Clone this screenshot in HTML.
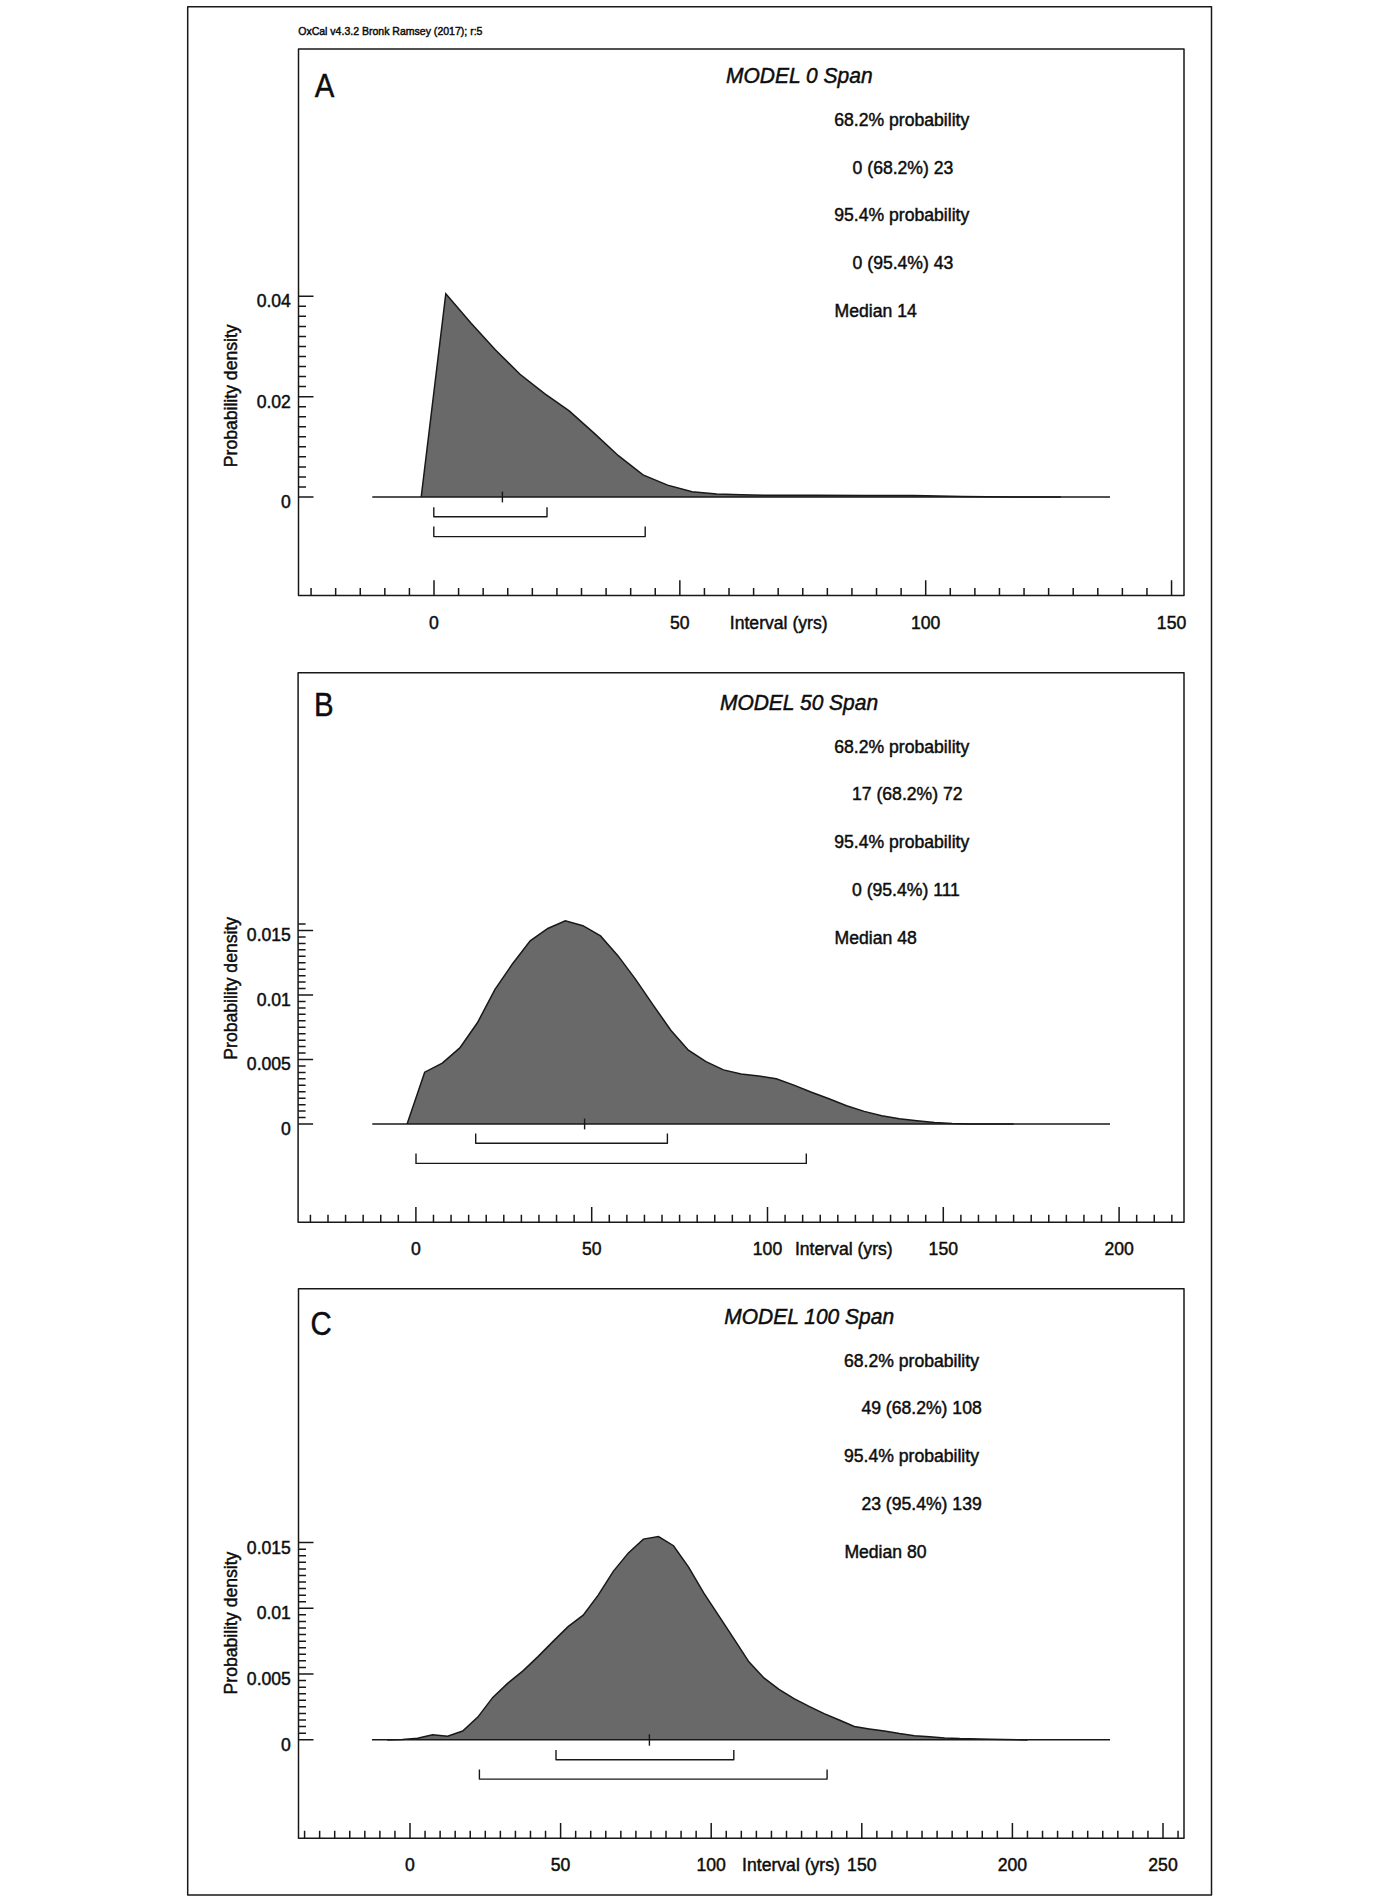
<!DOCTYPE html>
<html lang="en"><head><meta charset="utf-8"><title>OxCal Span plots</title>
<style>
html,body{margin:0;padding:0;background:#fff;}
svg{display:block;}
text{font-family:"Liberation Sans", sans-serif;fill:#0d0d0d;stroke:#0d0d0d;stroke-width:0.45px;}
</style></head><body>
<svg width="1400" height="1902" viewBox="0 0 1400 1902">
<rect x="0" y="0" width="1400" height="1902" fill="#fff"/>
<rect x="187.7" y="6.7" width="1023.80" height="1888.20" fill="none" stroke="#181818" stroke-width="1.5" stroke-linejoin="round"/>
<text transform="translate(298.20 35.20) scale(0.985 1.03)" font-size="10.7" text-anchor="start">OxCal v4.3.2 Bronk Ramsey (2017); r:5</text>
<g id="panelA">
<rect x="298.5" y="49.0" width="885.50" height="546.50" fill="none" stroke="#181818" stroke-width="1.5" stroke-linejoin="round"/>
<path d="M421.2 497.0 L445.8 293.7 L470.9 322.9 L495.5 350.0 L520.0 374.3 L544.6 393.7 L569.2 410.9 L593.8 432.9 L618.4 455.7 L643.0 474.9 L667.6 485.1 L692.1 491.8 L716.7 493.9 L741.3 494.8 L765.9 495.3 L815.1 495.2 L864.2 495.4 L913.4 495.6 L962.6 496.4 L1011.7 496.9 L1060.9 497.0 L1060.9 497.0 L421.2 497.0Z" fill="#696969" stroke="none"/>
<path d="M421.2 497.0 L445.8 293.7 L470.9 322.9 L495.5 350.0 L520.0 374.3 L544.6 393.7 L569.2 410.9 L593.8 432.9 L618.4 455.7 L643.0 474.9 L667.6 485.1 L692.1 491.8 L716.7 493.9 L741.3 494.8 L765.9 495.3 L815.1 495.2 L864.2 495.4 L913.4 495.6 L962.6 496.4 L1011.7 496.9 L1060.9 497.0" fill="none" stroke="#181818" stroke-width="1.5" stroke-linejoin="miter"/>
<path d="M372.30 497.00L1110.00 497.00" stroke="#181818" stroke-width="1.5" fill="none"/>
<path d="M311.07 595.50v-7.6M335.66 595.50v-7.6M360.25 595.50v-7.6M384.83 595.50v-7.6M409.42 595.50v-7.6M434.00 595.50v-15.2M458.58 595.50v-7.6M483.17 595.50v-7.6M507.75 595.50v-7.6M532.34 595.50v-7.6M556.92 595.50v-7.6M581.51 595.50v-7.6M606.10 595.50v-7.6M630.68 595.50v-7.6M655.26 595.50v-7.6M679.85 595.50v-15.2M704.43 595.50v-7.6M729.02 595.50v-7.6M753.61 595.50v-7.6M778.19 595.50v-7.6M802.77 595.50v-7.6M827.36 595.50v-7.6M851.94 595.50v-7.6M876.53 595.50v-7.6M901.12 595.50v-7.6M925.70 595.50v-15.2M950.28 595.50v-7.6M974.87 595.50v-7.6M999.45 595.50v-7.6M1024.04 595.50v-7.6M1048.62 595.50v-7.6M1073.21 595.50v-7.6M1097.80 595.50v-7.6M1122.38 595.50v-7.6M1146.96 595.50v-7.6M1171.55 595.50v-15.2" stroke="#181818" stroke-width="1.5" fill="none"/>
<path d="M298.50 497.00h15.0M298.50 486.96h7.5M298.50 476.93h7.5M298.50 466.89h7.5M298.50 456.86h7.5M298.50 446.82h7.5M298.50 436.79h7.5M298.50 426.75h7.5M298.50 416.72h7.5M298.50 406.69h7.5M298.50 396.65h15.0M298.50 386.62h7.5M298.50 376.58h7.5M298.50 366.55h7.5M298.50 356.51h7.5M298.50 346.48h7.5M298.50 336.44h7.5M298.50 326.41h7.5M298.50 316.37h7.5M298.50 306.34h7.5M298.50 296.30h15.0" stroke="#181818" stroke-width="1.5" fill="none"/>
<text transform="translate(290.90 507.90) scale(1.012 1.03)" font-size="17.4" text-anchor="end">0</text>
<text transform="translate(290.90 407.55) scale(1.012 1.03)" font-size="17.4" text-anchor="end">0.02</text>
<text transform="translate(290.90 307.20) scale(1.012 1.03)" font-size="17.4" text-anchor="end">0.04</text>
<text transform="translate(236.80 395.80) rotate(-90) scale(1.012 1.03)" font-size="17.4" text-anchor="middle">Probability density</text>
<text transform="translate(434.00 628.70) scale(1.012 1.03)" font-size="17.4" text-anchor="middle">0</text>
<text transform="translate(679.85 628.70) scale(1.012 1.03)" font-size="17.4" text-anchor="middle">50</text>
<text transform="translate(925.70 628.70) scale(1.012 1.03)" font-size="17.4" text-anchor="middle">100</text>
<text transform="translate(1171.55 628.70) scale(1.012 1.03)" font-size="17.4" text-anchor="middle">150</text>
<text transform="translate(729.80 628.70) scale(1.012 1.03)" font-size="17.4" text-anchor="start">Interval (yrs)</text>
<path d="M433.80 507.20V516.70H547.00V507.20" stroke="#181818" stroke-width="1.4" fill="none" stroke-linejoin="round"/>
<path d="M433.80 526.40V536.60H645.20V526.40" stroke="#181818" stroke-width="1.4" fill="none" stroke-linejoin="round"/>
<path d="M502.40 491.60L502.40 502.40" stroke="#181818" stroke-width="1.4" fill="none"/>
<text transform="translate(726.00 83.20) scale(1.0 1.03)" font-size="21.0" text-anchor="start" font-style="italic">MODEL 0 Span</text>
<text transform="translate(834.30 126.10) scale(1.012 1.03)" font-size="17.4" text-anchor="start">68.2% probability</text>
<text transform="translate(852.60 173.80) scale(1.012 1.03)" font-size="17.4" text-anchor="start">0 (68.2%) 23</text>
<text transform="translate(834.30 221.20) scale(1.012 1.03)" font-size="17.4" text-anchor="start">95.4% probability</text>
<text transform="translate(852.60 268.80) scale(1.012 1.03)" font-size="17.4" text-anchor="start">0 (95.4%) 43</text>
<text transform="translate(834.60 317.00) scale(1.012 1.03)" font-size="17.4" text-anchor="start">Median 14</text>
<text transform="translate(314.80 97.00) scale(0.87 1.01)" font-size="33.8" text-anchor="start">A</text>
</g>
<g id="panelB">
<rect x="298.1" y="672.7" width="885.90" height="549.60" fill="none" stroke="#181818" stroke-width="1.5" stroke-linejoin="round"/>
<path d="M407.1 1124.0 L424.7 1072.2 L442.3 1063.1 L459.8 1047.9 L477.4 1022.8 L495.0 989.4 L512.6 963.7 L530.2 940.8 L547.8 928.5 L565.3 920.8 L582.9 925.7 L600.5 935.9 L618.1 955.9 L635.6 979.4 L653.2 1005.1 L670.8 1030.2 L688.4 1050.2 L706.0 1061.7 L723.5 1069.9 L741.1 1073.9 L758.7 1075.9 L776.3 1078.8 L793.9 1085.1 L811.5 1092.2 L829.0 1098.8 L846.6 1105.7 L864.2 1111.4 L881.8 1115.7 L899.3 1118.8 L916.9 1120.8 L934.5 1122.5 L952.1 1123.5 L969.7 1124.0 L987.2 1124.0 L1013.6 1124.0 L1013.6 1124.0 L407.1 1124.0Z" fill="#696969" stroke="none"/>
<path d="M407.1 1124.0 L424.7 1072.2 L442.3 1063.1 L459.8 1047.9 L477.4 1022.8 L495.0 989.4 L512.6 963.7 L530.2 940.8 L547.8 928.5 L565.3 920.8 L582.9 925.7 L600.5 935.9 L618.1 955.9 L635.6 979.4 L653.2 1005.1 L670.8 1030.2 L688.4 1050.2 L706.0 1061.7 L723.5 1069.9 L741.1 1073.9 L758.7 1075.9 L776.3 1078.8 L793.9 1085.1 L811.5 1092.2 L829.0 1098.8 L846.6 1105.7 L864.2 1111.4 L881.8 1115.7 L899.3 1118.8 L916.9 1120.8 L934.5 1122.5 L952.1 1123.5 L969.7 1124.0 L987.2 1124.0 L1013.6 1124.0" fill="none" stroke="#181818" stroke-width="1.5" stroke-linejoin="miter"/>
<path d="M372.30 1124.00L1110.00 1124.00" stroke="#181818" stroke-width="1.5" fill="none"/>
<path d="M310.42 1222.30v-7.6M328.00 1222.30v-7.6M345.58 1222.30v-7.6M363.16 1222.30v-7.6M380.74 1222.30v-7.6M398.32 1222.30v-7.6M415.90 1222.30v-15.2M433.48 1222.30v-7.6M451.06 1222.30v-7.6M468.64 1222.30v-7.6M486.22 1222.30v-7.6M503.80 1222.30v-7.6M521.38 1222.30v-7.6M538.96 1222.30v-7.6M556.54 1222.30v-7.6M574.12 1222.30v-7.6M591.70 1222.30v-15.2M609.28 1222.30v-7.6M626.86 1222.30v-7.6M644.44 1222.30v-7.6M662.02 1222.30v-7.6M679.60 1222.30v-7.6M697.18 1222.30v-7.6M714.76 1222.30v-7.6M732.34 1222.30v-7.6M749.92 1222.30v-7.6M767.50 1222.30v-15.2M785.08 1222.30v-7.6M802.66 1222.30v-7.6M820.24 1222.30v-7.6M837.82 1222.30v-7.6M855.40 1222.30v-7.6M872.98 1222.30v-7.6M890.56 1222.30v-7.6M908.14 1222.30v-7.6M925.72 1222.30v-7.6M943.30 1222.30v-15.2M960.88 1222.30v-7.6M978.46 1222.30v-7.6M996.04 1222.30v-7.6M1013.62 1222.30v-7.6M1031.20 1222.30v-7.6M1048.78 1222.30v-7.6M1066.36 1222.30v-7.6M1083.94 1222.30v-7.6M1101.52 1222.30v-7.6M1119.10 1222.30v-15.2M1136.68 1222.30v-7.6M1154.26 1222.30v-7.6M1171.84 1222.30v-7.6" stroke="#181818" stroke-width="1.5" fill="none"/>
<path d="M298.10 1124.00h15.0M298.10 1117.55h7.5M298.10 1111.10h7.5M298.10 1104.65h7.5M298.10 1098.20h7.5M298.10 1091.75h7.5M298.10 1085.30h7.5M298.10 1078.85h7.5M298.10 1072.40h7.5M298.10 1065.95h7.5M298.10 1059.50h15.0M298.10 1053.05h7.5M298.10 1046.60h7.5M298.10 1040.15h7.5M298.10 1033.70h7.5M298.10 1027.25h7.5M298.10 1020.80h7.5M298.10 1014.35h7.5M298.10 1007.90h7.5M298.10 1001.45h7.5M298.10 995.00h15.0M298.10 988.55h7.5M298.10 982.10h7.5M298.10 975.65h7.5M298.10 969.20h7.5M298.10 962.75h7.5M298.10 956.30h7.5M298.10 949.85h7.5M298.10 943.40h7.5M298.10 936.95h7.5M298.10 930.50h15.0M298.10 924.05h7.5" stroke="#181818" stroke-width="1.5" fill="none"/>
<text transform="translate(290.90 1134.90) scale(1.012 1.03)" font-size="17.4" text-anchor="end">0</text>
<text transform="translate(290.90 1070.40) scale(1.012 1.03)" font-size="17.4" text-anchor="end">0.005</text>
<text transform="translate(290.90 1005.90) scale(1.012 1.03)" font-size="17.4" text-anchor="end">0.01</text>
<text transform="translate(290.90 941.40) scale(1.012 1.03)" font-size="17.4" text-anchor="end">0.015</text>
<text transform="translate(236.80 988.30) rotate(-90) scale(1.012 1.03)" font-size="17.4" text-anchor="middle">Probability density</text>
<text transform="translate(415.90 1255.40) scale(1.012 1.03)" font-size="17.4" text-anchor="middle">0</text>
<text transform="translate(591.70 1255.40) scale(1.012 1.03)" font-size="17.4" text-anchor="middle">50</text>
<text transform="translate(767.50 1255.40) scale(1.012 1.03)" font-size="17.4" text-anchor="middle">100</text>
<text transform="translate(943.30 1255.40) scale(1.012 1.03)" font-size="17.4" text-anchor="middle">150</text>
<text transform="translate(1119.10 1255.40) scale(1.012 1.03)" font-size="17.4" text-anchor="middle">200</text>
<text transform="translate(794.90 1255.40) scale(1.012 1.03)" font-size="17.4" text-anchor="start">Interval (yrs)</text>
<path d="M475.70 1133.40V1143.20H667.40V1133.40" stroke="#181818" stroke-width="1.4" fill="none" stroke-linejoin="round"/>
<path d="M416.00 1153.40V1163.40H806.30V1153.40" stroke="#181818" stroke-width="1.4" fill="none" stroke-linejoin="round"/>
<path d="M584.60 1118.60L584.60 1129.40" stroke="#181818" stroke-width="1.4" fill="none"/>
<text transform="translate(719.90 709.60) scale(1.0 1.03)" font-size="21.0" text-anchor="start" font-style="italic">MODEL 50 Span</text>
<text transform="translate(834.30 752.50) scale(1.012 1.03)" font-size="17.4" text-anchor="start">68.2% probability</text>
<text transform="translate(852.00 800.30) scale(1.012 1.03)" font-size="17.4" text-anchor="start">17 (68.2%) 72</text>
<text transform="translate(834.30 847.80) scale(1.012 1.03)" font-size="17.4" text-anchor="start">95.4% probability</text>
<text transform="translate(852.00 895.60) scale(1.012 1.03)" font-size="17.4" text-anchor="start">0 (95.4%) 111</text>
<text transform="translate(834.60 943.80) scale(1.012 1.03)" font-size="17.4" text-anchor="start">Median 48</text>
<text transform="translate(314.10 716.30) scale(0.87 1.01)" font-size="33.8" text-anchor="start">B</text>
</g>
<g id="panelC">
<rect x="298.5" y="1288.85" width="885.50" height="549.40" fill="none" stroke="#181818" stroke-width="1.5" stroke-linejoin="round"/>
<path d="M387.4 1740.0 L402.5 1739.4 L417.5 1738.3 L432.6 1734.8 L447.6 1736.2 L462.7 1731.0 L477.8 1717.1 L492.8 1697.4 L507.9 1683.1 L523.0 1670.9 L538.0 1656.6 L553.1 1641.4 L568.1 1626.6 L583.2 1615.1 L598.2 1595.1 L613.3 1571.4 L628.4 1552.9 L643.4 1539.1 L658.5 1536.6 L673.5 1545.7 L688.6 1567.1 L703.7 1592.9 L718.7 1615.7 L733.8 1638.6 L748.9 1661.8 L763.9 1677.9 L779.0 1689.3 L794.0 1698.6 L809.1 1706.4 L824.1 1713.6 L839.2 1720.0 L854.3 1726.4 L869.3 1728.9 L884.4 1731.1 L899.5 1733.6 L914.5 1735.7 L929.6 1736.8 L944.6 1737.9 L959.7 1738.6 L989.8 1739.3 L1027.5 1740.0 L1027.5 1739.7 L387.4 1739.7Z" fill="#696969" stroke="none"/>
<path d="M387.4 1740.0 L402.5 1739.4 L417.5 1738.3 L432.6 1734.8 L447.6 1736.2 L462.7 1731.0 L477.8 1717.1 L492.8 1697.4 L507.9 1683.1 L523.0 1670.9 L538.0 1656.6 L553.1 1641.4 L568.1 1626.6 L583.2 1615.1 L598.2 1595.1 L613.3 1571.4 L628.4 1552.9 L643.4 1539.1 L658.5 1536.6 L673.5 1545.7 L688.6 1567.1 L703.7 1592.9 L718.7 1615.7 L733.8 1638.6 L748.9 1661.8 L763.9 1677.9 L779.0 1689.3 L794.0 1698.6 L809.1 1706.4 L824.1 1713.6 L839.2 1720.0 L854.3 1726.4 L869.3 1728.9 L884.4 1731.1 L899.5 1733.6 L914.5 1735.7 L929.6 1736.8 L944.6 1737.9 L959.7 1738.6 L989.8 1739.3 L1027.5 1740.0" fill="none" stroke="#181818" stroke-width="1.5" stroke-linejoin="miter"/>
<path d="M372.00 1739.70L1110.00 1739.70" stroke="#181818" stroke-width="1.5" fill="none"/>
<path d="M304.58 1838.25v-7.6M319.64 1838.25v-7.6M334.70 1838.25v-7.6M349.76 1838.25v-7.6M364.82 1838.25v-7.6M379.88 1838.25v-7.6M394.94 1838.25v-7.6M410.00 1838.25v-15.2M425.06 1838.25v-7.6M440.12 1838.25v-7.6M455.18 1838.25v-7.6M470.24 1838.25v-7.6M485.30 1838.25v-7.6M500.36 1838.25v-7.6M515.42 1838.25v-7.6M530.48 1838.25v-7.6M545.54 1838.25v-7.6M560.60 1838.25v-15.2M575.66 1838.25v-7.6M590.72 1838.25v-7.6M605.78 1838.25v-7.6M620.84 1838.25v-7.6M635.90 1838.25v-7.6M650.96 1838.25v-7.6M666.02 1838.25v-7.6M681.08 1838.25v-7.6M696.14 1838.25v-7.6M711.20 1838.25v-15.2M726.26 1838.25v-7.6M741.32 1838.25v-7.6M756.38 1838.25v-7.6M771.44 1838.25v-7.6M786.50 1838.25v-7.6M801.56 1838.25v-7.6M816.62 1838.25v-7.6M831.68 1838.25v-7.6M846.74 1838.25v-7.6M861.80 1838.25v-15.2M876.86 1838.25v-7.6M891.92 1838.25v-7.6M906.98 1838.25v-7.6M922.04 1838.25v-7.6M937.10 1838.25v-7.6M952.16 1838.25v-7.6M967.22 1838.25v-7.6M982.28 1838.25v-7.6M997.34 1838.25v-7.6M1012.40 1838.25v-15.2M1027.46 1838.25v-7.6M1042.52 1838.25v-7.6M1057.58 1838.25v-7.6M1072.64 1838.25v-7.6M1087.70 1838.25v-7.6M1102.76 1838.25v-7.6M1117.82 1838.25v-7.6M1132.88 1838.25v-7.6M1147.94 1838.25v-7.6M1163.00 1838.25v-15.2M1178.06 1838.25v-7.6" stroke="#181818" stroke-width="1.5" fill="none"/>
<path d="M298.50 1739.70h15.0M298.50 1733.13h7.5M298.50 1726.56h7.5M298.50 1719.99h7.5M298.50 1713.42h7.5M298.50 1706.85h7.5M298.50 1700.28h7.5M298.50 1693.71h7.5M298.50 1687.14h7.5M298.50 1680.57h7.5M298.50 1674.00h15.0M298.50 1667.43h7.5M298.50 1660.86h7.5M298.50 1654.29h7.5M298.50 1647.72h7.5M298.50 1641.15h7.5M298.50 1634.58h7.5M298.50 1628.01h7.5M298.50 1621.44h7.5M298.50 1614.87h7.5M298.50 1608.30h15.0M298.50 1601.73h7.5M298.50 1595.16h7.5M298.50 1588.59h7.5M298.50 1582.02h7.5M298.50 1575.45h7.5M298.50 1568.88h7.5M298.50 1562.31h7.5M298.50 1555.74h7.5M298.50 1549.17h7.5M298.50 1542.60h15.0" stroke="#181818" stroke-width="1.5" fill="none"/>
<text transform="translate(290.90 1750.60) scale(1.012 1.03)" font-size="17.4" text-anchor="end">0</text>
<text transform="translate(290.90 1684.90) scale(1.012 1.03)" font-size="17.4" text-anchor="end">0.005</text>
<text transform="translate(290.90 1619.20) scale(1.012 1.03)" font-size="17.4" text-anchor="end">0.01</text>
<text transform="translate(290.90 1553.50) scale(1.012 1.03)" font-size="17.4" text-anchor="end">0.015</text>
<text transform="translate(236.80 1623.00) rotate(-90) scale(1.012 1.03)" font-size="17.4" text-anchor="middle">Probability density</text>
<text transform="translate(410.00 1871.30) scale(1.012 1.03)" font-size="17.4" text-anchor="middle">0</text>
<text transform="translate(560.60 1871.30) scale(1.012 1.03)" font-size="17.4" text-anchor="middle">50</text>
<text transform="translate(711.20 1871.30) scale(1.012 1.03)" font-size="17.4" text-anchor="middle">100</text>
<text transform="translate(861.80 1871.30) scale(1.012 1.03)" font-size="17.4" text-anchor="middle">150</text>
<text transform="translate(1012.40 1871.30) scale(1.012 1.03)" font-size="17.4" text-anchor="middle">200</text>
<text transform="translate(1163.00 1871.30) scale(1.012 1.03)" font-size="17.4" text-anchor="middle">250</text>
<text transform="translate(742.10 1871.30) scale(1.012 1.03)" font-size="17.4" text-anchor="start">Interval (yrs)</text>
<path d="M556.00 1750.00V1759.70H733.80V1750.00" stroke="#181818" stroke-width="1.4" fill="none" stroke-linejoin="round"/>
<path d="M479.40 1769.40V1779.10H827.10V1769.40" stroke="#181818" stroke-width="1.4" fill="none" stroke-linejoin="round"/>
<path d="M649.40 1734.30L649.40 1745.70" stroke="#181818" stroke-width="1.4" fill="none"/>
<text transform="translate(724.20 1324.20) scale(1.0 1.03)" font-size="21.0" text-anchor="start" font-style="italic">MODEL 100 Span</text>
<text transform="translate(844.00 1366.90) scale(1.012 1.03)" font-size="17.4" text-anchor="start">68.2% probability</text>
<text transform="translate(861.40 1414.20) scale(1.012 1.03)" font-size="17.4" text-anchor="start">49 (68.2%) 108</text>
<text transform="translate(844.00 1462.40) scale(1.012 1.03)" font-size="17.4" text-anchor="start">95.4% probability</text>
<text transform="translate(861.40 1510.00) scale(1.012 1.03)" font-size="17.4" text-anchor="start">23 (95.4%) 139</text>
<text transform="translate(844.40 1557.90) scale(1.012 1.03)" font-size="17.4" text-anchor="start">Median 80</text>
<text transform="translate(310.60 1335.20) scale(0.87 1.01)" font-size="33.8" text-anchor="start">C</text>
</g>
</svg>
</body></html>
